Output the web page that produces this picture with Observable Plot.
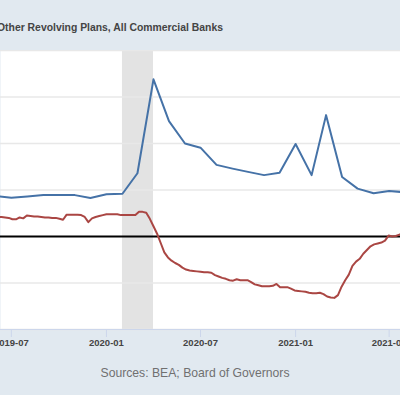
<!DOCTYPE html>
<html>
<head>
<meta charset="utf-8">
<script src="https://cdn.jsdelivr.net/npm/d3@7"></script>
<script src="https://cdn.jsdelivr.net/npm/@observablehq/plot@0.6"></script>
<style>
  html, body { margin: 0; padding: 0; background: #e1e9f0; width: 400px; height: 395px; overflow: hidden; }
  #title { position: relative; height: 50px; font-family: "Liberation Sans", Arial, sans-serif; }
  #title span { position: absolute; left: -3px; top: 22px; font-size: 10.4px; font-weight: bold; color: #444; white-space: nowrap; }
  #caption { height: 45px; box-sizing: border-box; padding-top: 15px; padding-right: 10px; text-align: center; font-family: "Liberation Sans", Arial, sans-serif; font-size: 12.2px; line-height: 16px; color: #707070; }
  svg { display: block; }
  #chart svg g[aria-label="x-axis tick label"] text { font-weight: bold; }
</style>
</head>
<body>
<div id="title"><span>Other Revolving Plans, All Commercial Banks</span></div>
<div id="chart"></div>
<div id="caption">Sources: BEA; Board of Governors</div>
<script>
// Personal saving rate (monthly, percent)
const savingMonths = ["2019-06-01","2019-07-01","2019-08-01","2019-09-01","2019-10-01","2019-11-01","2019-12-01",
  "2020-01-01","2020-02-01","2020-03-01","2020-04-01","2020-05-01","2020-06-01","2020-07-01","2020-08-01",
  "2020-09-01","2020-10-01","2020-11-01","2020-12-01","2021-01-01","2021-02-01","2021-03-01","2021-04-01",
  "2021-05-01","2021-06-01","2021-07-01","2021-08-01"];
const savingRate = [8.7, 8.35, 8.6, 8.9, 8.9, 8.9, 8.3, 9.1, 9.2, 13.6, 33.8, 24.8, 20.0, 19.1, 15.4,
  14.6, 13.9, 13.2, 13.7, 19.9, 13.2, 26.1, 12.8, 10.3, 9.3, 9.8, 9.5];

// Credit card and other revolving plans, percent change from year ago (weekly, Wednesdays from 2019-06-05)
const cardStart = "2019-06-05";
const cardChange = [
  4.2, 4.2, 4.1, 4.0, 3.7, 3.7, 4.1, 3.9, 4.5, 4.4, 4.3, 4.3, 4.2, 4.1, 4.1, 4.0, 4.0, 3.8, 3.6, 4.7,
  4.7, 4.7, 4.7, 4.6, 4.2, 3.1, 3.9, 4.2, 4.4, 4.6, 4.8, 4.8, 4.8, 4.8, 4.6, 4.6, 4.6, 4.6, 4.6, 5.3,
  5.3, 5.1, 3.8, 2.2, 0.6, -1.4, -3.4, -4.5, -5.2, -5.7, -6.1, -6.7, -7.1, -7.3, -7.4, -7.5, -7.6, -7.7, -7.7, -7.8,
  -8.3, -8.6, -8.9, -9.1, -9.4, -9.5, -9.2, -9.4, -9.4, -9.4, -9.8, -10.3, -10.5, -10.7, -10.7, -10.7, -10.6, -10.2, -10.9, -10.9,
  -10.9, -11.2, -11.6, -11.7, -11.8, -11.9, -12.1, -12.2, -12.2, -12.1, -12.4, -12.9, -13.1, -13.2, -12.6, -10.8, -9.4, -8.2, -6.3, -5.4,
  -4.8, -3.7, -2.9, -2.1, -1.7, -1.5, -1.3, -0.9, 0.2, 0.0, 0.1, 0.4, 0.7];

const recession = [{start: "2020-02-01", end: "2020-04-01"}];
const xDomain = ["2019-06-10", "2021-07-23"];
const yDomain = [-20, 40];
const gridValues = [-20, -10, 10, 20, 30, 40];
const tickDates = ["2019-07-01", "2020-01-01", "2020-07-01", "2021-01-01", "2021-07-01"];

const saving = savingMonths.map((d, i) => ({date: new Date(d), value: savingRate[i]}));
const s0 = new Date(cardStart);
const card = cardChange.map((v, i) => ({date: d3.utcDay.offset(s0, 7 * i), value: v}));
const rec = recession.map(r => ({x1: new Date(r.start), x2: new Date(r.end)}));

const chart = Plot.plot({
  width: 400,
  height: 300,
  marginTop: 0,
  marginBottom: 21,
  marginLeft: 0,
  marginRight: 0,
  style: {background: "#e1e9f0", fontFamily: "'Liberation Sans', Arial, sans-serif", fontSize: "9.5px", overflow: "hidden"},
  x: {type: "utc", domain: xDomain.map(d => new Date(d))},
  y: {domain: yDomain, axis: null},
  marks: [
    Plot.frame({fill: "white", stroke: null}),
    Plot.rect(rec, {x1: "x1", x2: "x2", fill: "#e3e3e3"}),
    Plot.ruleY(gridValues, {stroke: "#e8e8e8", strokeWidth: 1.5}),
    Plot.ruleY([0], {stroke: "#000", strokeWidth: 2}),
    Plot.line(saving, {x: "date", y: "value", stroke: "#4572a7", strokeWidth: 2, clip: true}),
    Plot.line(card, {x: "date", y: "value", stroke: "#aa4643", strokeWidth: 2, clip: true}),
    Plot.ruleY([yDomain[0]], {stroke: "#ccd6eb", strokeWidth: 1}),
    Plot.axisX({ticks: tickDates.map(d => new Date(d)), tickFormat: d3.utcFormat("%Y-%m"), tickSize: 8, tickPadding: 2, stroke: "#ccd6eb", fill: "#444", fontSize: 9.5, fontWeight: "bold"})
  ]
});
document.getElementById("chart").appendChild(chart);
</script>
</body>
</html>
